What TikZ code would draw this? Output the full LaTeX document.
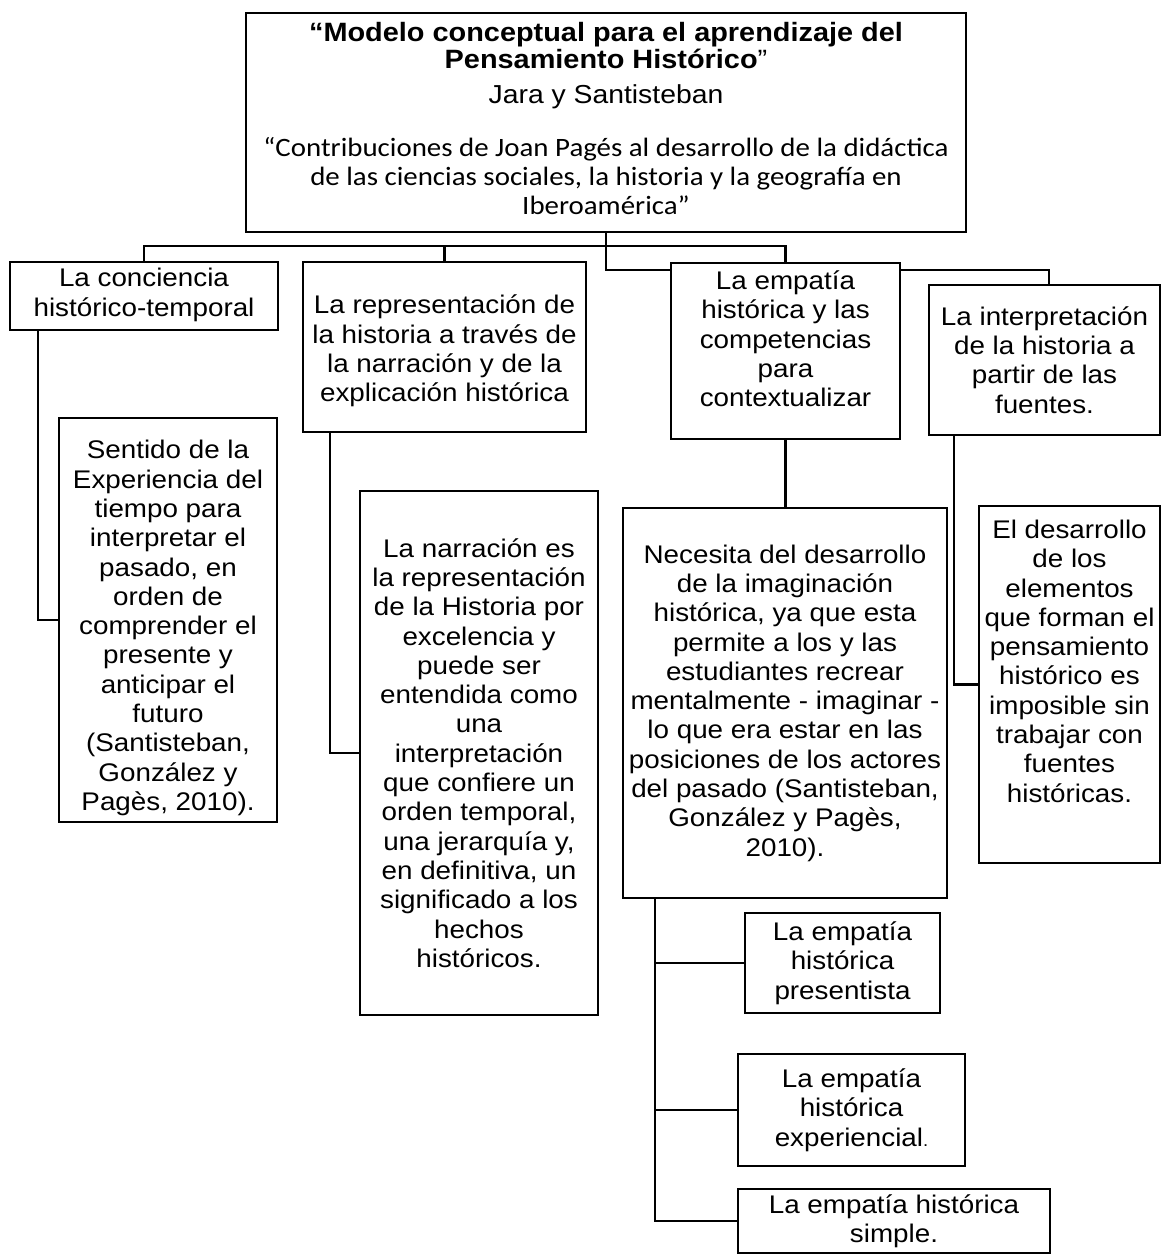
\documentclass[tikz,border=0pt]{standalone}
\usepackage{fontspec}
\setmainfont{Liberation Sans}[FakeStretch=1.09]
\newfontfamily\calib{Carlito}[FakeStretch=1.09]
\usetikzlibrary{calc}
\pgfdeclarelayer{bg}
\pgfsetlayers{bg,main}
\newcommand\bodyfont{\fontsize{25.5pt}{29.3pt}\selectfont}
% width, height, inner position, top vspace, text
\newcommand\bt[5]{\parbox[c][#2pt][#3]{#1pt}{\bodyfont\centering\vspace*{#4pt}#5\par}}
\begin{document}
\begin{tikzpicture}[x=1pt,y=-1pt,
  box/.style={draw, line width=2.1pt, fill=white, inner sep=0pt, outer sep=0pt},
  conn/.style={line width=2.1pt}]
\useasboundingbox (0,0) rectangle (1162,1256);

% top box
\node[box, minimum width=720pt, minimum height=219pt] (top) at (606,122.5) {};
\node[anchor=base, align=center, font={\fontsize{26.5pt}{27pt}\selectfont\bfseries}] (title) at (606,68)
  {“Modelo conceptual para el aprendizaje del\\Pensamiento Histórico{\mdseries ”}};
\node[anchor=base, font={\fontsize{26pt}{29pt}\selectfont}] (authors) at (606,103) {Jara y Santisteban};
\node[anchor=base, align=center, font={\calib\fontsize{26.5pt}{29pt}\selectfont}] (source) at (606,214)
  {“Contribuciones de Joan Pagés al desarrollo de la didáctica\\de las ciencias sociales, la historia y la geografía en\\Iberoamérica”};

% first level
\node[box] (b1) at (144,296) {\bt{268}{68}{c}{-2}{La conciencia\\histórico-temporal}};
\node[box] (b2) at (444.5,347) {\bt{283}{170}{c}{8}{La representación de\\la historia a través de\\la narración y de la\\explicación histórica}};
\node[box] (b3) at (785.5,351) {\bt{229}{176}{c}{-24}{La empatía\\histórica y las\\competencias\\para\\contextualizar}};
\node[box] (b4) at (1044.5,360) {\bt{231}{150}{c}{0}{La interpretación\\de la historia a\\partir de las\\fuentes.}};

% second level
\node[box] (b1a) at (168,620) {\bt{218}{404}{c}{16}{Sentido de la\\Experiencia del\\tiempo para\\interpretar el\\pasado, en\\orden de\\comprender el\\presente y\\anticipar el\\futuro\\(Santisteban,\\González y\\Pagès, 2010).}};
\node[box] (b2a) at (479,753) {\bt{238}{524}{c}{0}{La narración es\\la representación\\de la Historia por\\excelencia y\\puede ser\\entendida como\\una\\interpretación\\que confiere un\\orden temporal,\\una jerarquía y,\\en definitiva, un\\significado a los\\hechos\\históricos.}};
\node[box] (b3a) at (785,703) {\bt{324}{390}{c}{0}{Necesita del desarrollo\\de la imaginación\\histórica, ya que esta\\permite a los y las\\estudiantes recrear\\mentalmente - imaginar -\\lo que era estar en las\\posiciones de los actores\\del pasado (Santisteban,\\González y Pagès,\\2010).}};
\node[box] (b4a) at (1069.5,684.5) {\bt{181}{357}{t}{14}{El desarrollo\\de los\\elementos\\que forman el\\pensamiento\\histórico es\\imposible sin\\trabajar con\\fuentes\\históricas.}};

% third level
\node[box] (b5a) at (842.5,963) {\bt{195}{100}{c}{0}{La empatía\\histórica\\presentista}};
\node[box] (b5b) at (851.5,1110) {\bt{227}{112}{c}{0}{La empatía\\histórica\\experiencial{\fontsize{17pt}{29.3pt}\selectfont .}}};
\node[box] (b5c) at (894,1221) {\bt{312}{64}{c}{0}{La empatía histórica\\simple.}};

% connectors
\begin{pgfonlayer}{bg}
\coordinate (bus) at (0,246);
\coordinate (bus2) at (0,270);
\draw[conn] (top.south) -- (top.south |- bus);
\draw[conn] (b1.north) -- (b1.north |- bus) -- (b3.north |- bus) -- (b3.north);
\draw[conn] (b2.north) -- (b2.north |- bus);
\draw[conn] (top.south) -- (top.south |- bus2) -- ([xshift=4.5pt]b4.north |- bus2) -- ([xshift=4.5pt]b4.north);
\draw[conn] ([xshift=28pt]b1.south west) |- (b1a.west);
\draw[conn] ([xshift=27pt]b2.south west) |- (b2a.west);
\draw[conn] (b3.south) -- (b3.south |- b3a.north);
\draw[conn] ([xshift=25pt]b4.south west) |- (b4a.west);
\draw[conn] ([xshift=32pt]b3a.south west) |- (b5c.west);
\draw[conn] ([xshift=32pt]b3a.south west |- b5a.west) -- (b5a.west);
\draw[conn] ([xshift=32pt]b3a.south west |- b5b.west) -- (b5b.west);
\end{pgfonlayer}
\end{tikzpicture}
\end{document}
